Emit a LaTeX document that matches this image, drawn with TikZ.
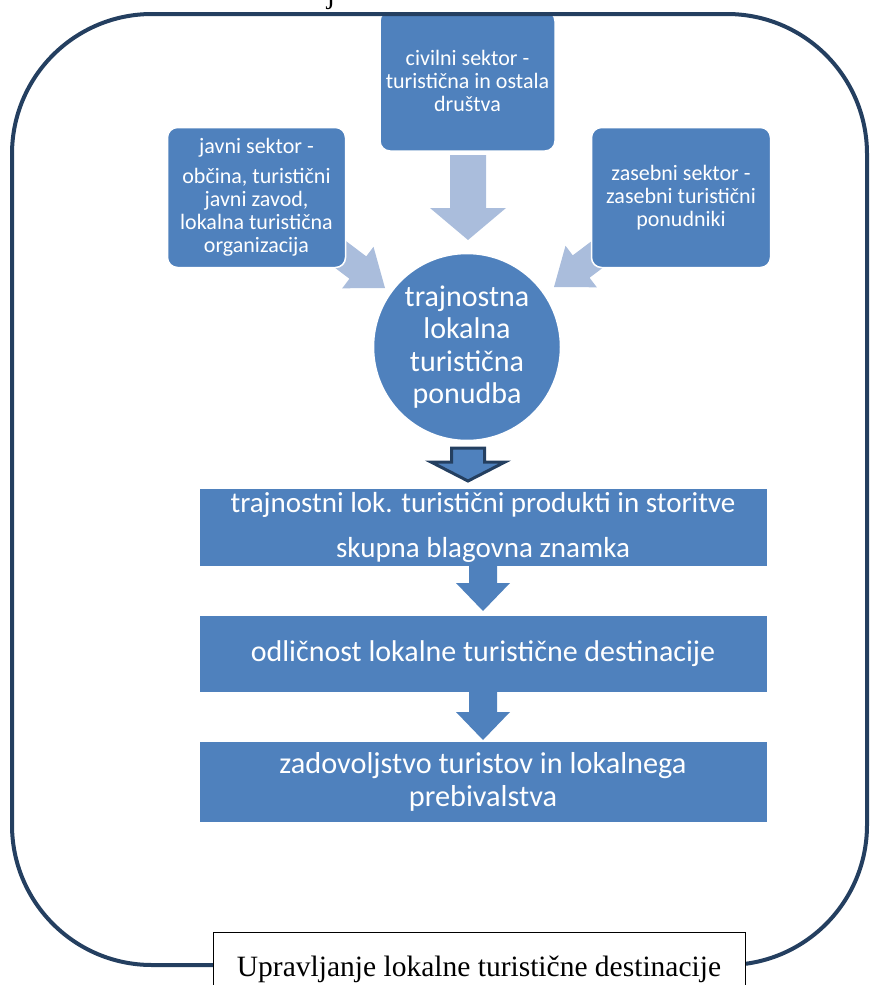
\documentclass[tikz,border=0pt]{standalone}
\usepackage{fontspec}
\setmainfont{Carlito}
\newfontfamily\timesf{Liberation Serif}
\definecolor{boxblue}{HTML}{4F81BD}
\definecolor{lightarr}{HTML}{AABDDC}
\definecolor{navy}{HTML}{243F60}
\newcommand\blockarr[7]{\path[#1,shift={#2},rotate=#3] (0,0) -- (-#7,#6) -- (-#7,#5) -- (-#4,#5) -- (-#4,-#5) -- (-#7,-#5) -- (-#7,-#6) -- cycle;}
\tikzset{
  smallbox/.style={fill=boxblue,draw=white,line width=1.5pt,rounded corners=10pt,inner sep=0pt,align=center,text=white,font=\fontsize{22}{23}\selectfont},
  barbox/.style={fill=boxblue,draw=white,line width=1pt,inner sep=0pt,minimum width=568pt,align=center,text=white},
  larr/.style={fill=lightarr},
  barr/.style={fill=boxblue},
  darr/.style={fill=boxblue,draw=navy,line width=3pt,line join=miter},
}
\begin{document}
\begin{tikzpicture}[x=1pt,y=-1pt]
\useasboundingbox (0,0) rectangle (879,985);
% fragment of text above
\node[anchor=base,inner sep=0pt,font=\timesf\fontsize{29}{30}\selectfont] (frag) at (331,3) {j};
% coordinates for arrow tips
\coordinate (tipL) at (385,288);
\coordinate (tipR) at (554,287);
\coordinate (tipC) at (468,240);
% light arrows (drawn under boxes)
\blockarr{larr}{(tipL)}{-37}{95}{14}{26}{34}
\blockarr{larr}{(tipR)}{-143}{95}{14}{26}{34}
\blockarr{larr}{(tipC)}{-90}{85}{18}{38}{32}
% sector boxes
\node[smallbox,minimum width=175pt,minimum height=140pt] (civ) at (467.5,81) {civilni sektor -\\turistična in ostala\\društva};
\node[smallbox,minimum width=178pt,minimum height=140pt] (jav) at (256.5,197.5) {javni sektor -\\[7pt]občina, turistični\\javni zavod,\\lokalna turistična\\organizacija};
\node[smallbox,minimum width=179pt,minimum height=140pt] (zas) at (681,197.5) {zasebni sektor -\\zasebni turistični\\ponudniki};
% circle
\node[circle,fill=boxblue,draw=white,line width=1.5pt,minimum size=187pt,inner sep=0pt,align=center,text=white,font=\fontsize{30}{32.5}\selectfont] (pon) at (467,347) {trajnostna\\lokalna\\turistična\\ponudba};
% dark arrow
\coordinate (tipD) at (468,481);
\blockarr{darr}{(tipD)}{-90}{33}{16.5}{37}{19}
% bars
\node[barbox,minimum height=78pt,font=\fontsize{29}{45}\selectfont] (b1) at (483,527) {trajnostni lok. turistični produkti in storitve\\skupna blagovna znamka};
\node[barbox,minimum height=77pt,font=\fontsize{30}{33}\selectfont] (b2) at (483,653.5) {odličnost lokalne turistične destinacije};
\node[barbox,minimum height=81pt,font=\fontsize{30.3}{33}\selectfont] (b3) at (483,781.5) {zadovoljstvo turistov in lokalnega\\prebivalstva};
\coordinate (tip1) at (483,611);
\coordinate (tip2) at (483,740);
\blockarr{barr}{(tip1)}{-90}{46}{14}{27}{28}
\blockarr{barr}{(tip2)}{-90}{49}{14}{27}{28}
% outer frame
\draw[navy,line width=4pt,rounded corners=140pt] (12,14) rectangle (867,965);
% label
\node[draw=black,line width=1pt,fill=white,minimum width=532pt,minimum height=62pt,inner sep=0pt,anchor=north west] (lab) at (213,932) {};
\node[anchor=base,inner sep=0pt,font=\timesf\fontsize{29.5}{30}\selectfont] (labt) at (479,976) {Upravljanje lokalne turistične destinacije};
\end{tikzpicture}
\end{document}
